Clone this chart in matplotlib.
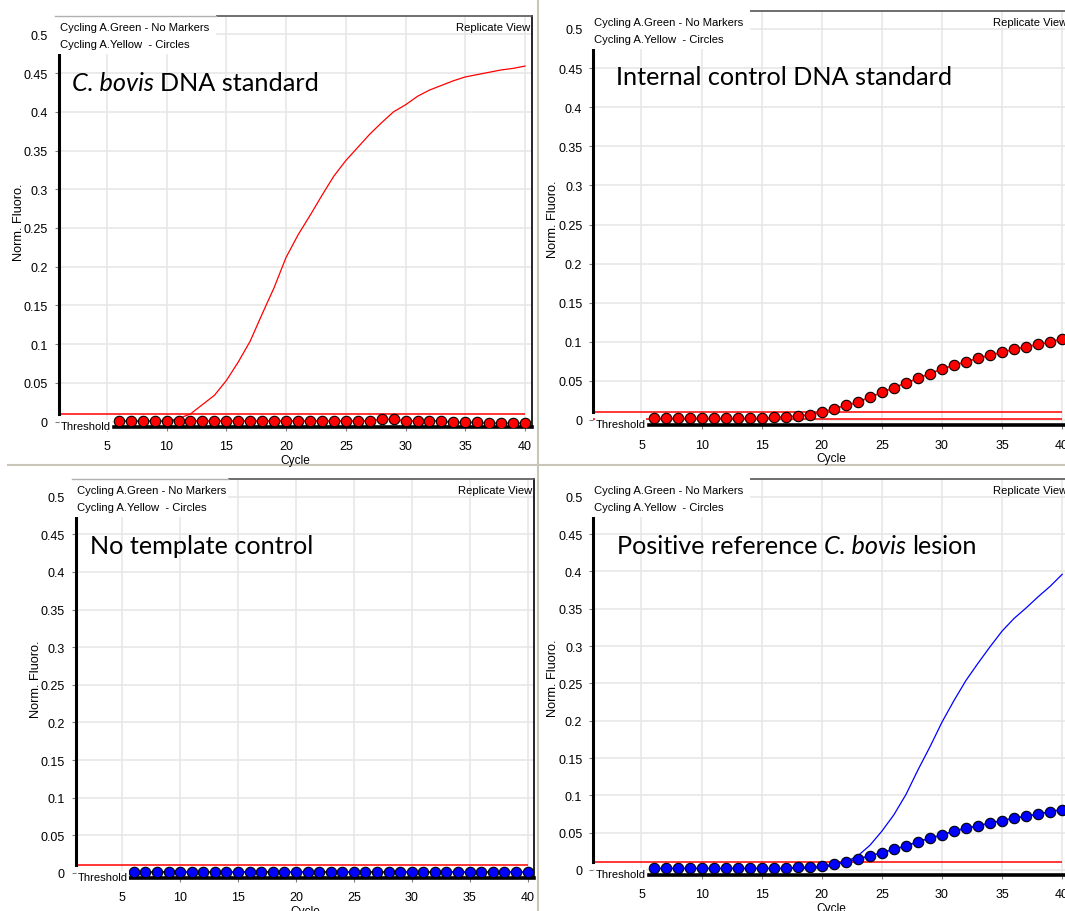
import matplotlib.pyplot as plt
from matplotlib.lines import Line2D
from matplotlib.patches import Rectangle
from matplotlib.ticker import FuncFormatter

plt.rcParams['font.family'] = ['Liberation Sans', 'DejaVu Sans']

W, H = 1065, 912

cycles = list(range(6, 41))

# C. bovis DNA standard
bovis_green = [0.001, 0.001, 0.001, 0.001, 0.001, 0.004, 0.010, 0.022, 0.034, 0.053,
               0.077, 0.104, 0.139, 0.173, 0.212, 0.241, 0.266, 0.292, 0.317, 0.337,
               0.354, 0.371, 0.386, 0.400, 0.409, 0.420, 0.428, 0.434, 0.440, 0.445,
               0.448, 0.451, 0.454, 0.456, 0.459]
bovis_yellow = [0.001, 0.001, 0.001, 0.001, 0.001, 0.001, 0.001, 0.001, 0.001, 0.001,
                0.001, 0.001, 0.001, 0.001, 0.001, 0.001, 0.001, 0.001, 0.001, 0.001,
                0.001, 0.001, 0.003, 0.003, 0.001, 0.001, 0.001, 0.001, -0.001, -0.001,
                -0.001, -0.002, -0.002, -0.002, -0.002]

# internal control DNA standard
ic_green_level = 0.0015
ic_yellow = [0.002, 0.002, 0.002, 0.002, 0.002, 0.002, 0.002, 0.002, 0.002, 0.002,
             0.0034, 0.004, 0.005, 0.0068, 0.0097, 0.0144, 0.0186, 0.0229, 0.0292, 0.0352,
             0.0415, 0.047, 0.0534, 0.0593, 0.0653, 0.0699, 0.0746, 0.0788, 0.083, 0.0864,
             0.0907, 0.0936, 0.0966, 0.0996, 0.1038]

# no template control
ntc_yellow = [0.0018, 0.0018, 0.0018, 0.0018, 0.0018, 0.0018, 0.0018, 0.0018, 0.0018, 0.0018,
              0.0018, 0.0018, 0.0018, 0.0018, 0.0018, 0.0018, 0.0018, 0.0018, 0.0018, 0.0018,
              0.0018, 0.0018, 0.0018, 0.0018, 0.0018, 0.0018, 0.0018, 0.0018, 0.0018, 0.0018,
              0.0018, 0.0018, 0.0018, 0.0018, 0.0018]

# positive reference lesion
lesion_green = [0.002, 0.002, 0.002, 0.002, 0.002, 0.002, 0.002, 0.002, 0.002, 0.002,
                0.002, 0.002, 0.002, 0.002, 0.003, 0.006, 0.011, 0.019, 0.033, 0.052,
                0.074, 0.101, 0.134, 0.165, 0.198, 0.227, 0.254, 0.277, 0.299, 0.320,
                0.337, 0.351, 0.366, 0.380, 0.396]
lesion_yellow = [0.0022, 0.0022, 0.0022, 0.0022, 0.0022, 0.0022, 0.0022, 0.0022, 0.0022, 0.0022,
                 0.0022, 0.0022, 0.0035, 0.0035, 0.005, 0.0075, 0.011, 0.0146, 0.019, 0.023,
                 0.028, 0.032, 0.038, 0.0425, 0.047, 0.052, 0.056, 0.059, 0.063, 0.066,
                 0.0695, 0.072, 0.075, 0.078, 0.081]

thresholds = [0.0105, 0.0105, 0.0105, 0.0102]

titles = [
    [("C. bovis", True), ("DNA standard", False)],
    [("Internal control DNA standard", False)],
    [("No template control", False)],
    [("Positive reference", False), ("C. bovis", True), ("lesion", False)],
]

legend_lines = ["Cycling A.Green - No Markers", "Cycling A.Yellow  - Circles"]
y_ticks = [0, 0.05, 0.1, 0.15, 0.2, 0.25, 0.3, 0.35, 0.4, 0.45, 0.5]
x_ticks = [5, 10, 15, 20, 25, 30, 35, 40]

XMIN, XMAX = 1, 40.57
YMIN, YMAX = -0.007, 0.5235

# pixel geometry of each screenshot panel: x of cycle 1, px per cycle, y of 0, px per unit
geometry = [
    (59.0, 11.95, 422.7, 774.8),
    (593.4, 12.02, 421.0, 782.0),
    (75.9, 11.58, 874.0, 752.6),
    (593.4, 12.02, 871.0, 746.6),
]
title_dx = [12.6, 22.6, 14.0, 24.0]
light_top = [True, False, True, False]

RED = '#ff0000'
BLUE = '#0000ff'
TITLE_SIZE = 18.2


def fx(x):
    return x / W


def fy(y):
    return 1 - y / H


fig = plt.figure(figsize=(W / 100, H / 100), dpi=100)
fig.patch.set_facecolor('white')

# window borders of the screenshots
fig.add_artist(Line2D([fx(538), fx(538)], [0, 1], color='#c9c5b8', lw=1.5))
fig.add_artist(Line2D([fx(8), 1], [fy(466), fy(466)], color='#c9c5b8', lw=1.5))

axes = []
for i, (c1, ppc, y0, ppu) in enumerate(geometry):
    left = c1
    right = c1 + (XMAX - XMIN) * ppc
    top = y0 - YMAX * ppu
    bottom = y0 - YMIN * ppu
    ax = fig.add_axes([fx(left), fy(bottom), fx(right - left), (bottom - top) / H])
    ax.set_xlim(XMIN, XMAX)
    ax.set_ylim(YMIN, YMAX)
    ax.set_xticks(x_ticks)
    ax.set_yticks(y_ticks)
    ax.yaxis.set_major_formatter(FuncFormatter(lambda v, p: f'{v:g}'))
    ax.grid(True, color='#e6e6e6', lw=1.1)
    ax.set_axisbelow(True)
    ax.tick_params(length=3, width=0.8, color='#808080', labelsize=9, pad=6.5)
    ax.tick_params(axis='y', pad=5)
    ax.spines['left'].set_bounds(thresholds[i], YMAX)
    ax.spines['left'].set_linewidth(2.2)
    ax.spines['bottom'].set_bounds(5.6, XMAX)
    ax.spines['bottom'].set_linewidth(2.6)
    ax.spines['top'].set_color('#555555')
    ax.spines['top'].set_linewidth(1.2)
    ax.spines['right'].set_linewidth(1.2)
    ax.hlines(thresholds[i], 1, 40, color=RED, lw=1.1, zorder=2)

    # legend box and labels
    box_w = 157 if i != 2 else 152
    fig.add_artist(Rectangle((fx(c1 - 5), fy(top + 38)), (box_w + 5) / W, 40 / H,
                             transform=fig.transFigure, facecolor='white',
                             edgecolor='none', zorder=2.5))
    if light_top[i]:
        fig.add_artist(Line2D([fx(c1 - 4), fx(c1 + box_w)], [fy(top), fy(top)],
                              color='#b0b0b0', lw=1.0, zorder=2.6))
    fig.text(fx(c1 + 1), fy(top + 11.3), legend_lines[0], fontsize=8.1, va='center', zorder=3)
    fig.text(fx(c1 + 1), fy(top + 28), legend_lines[1], fontsize=8.1, va='center', zorder=3)
    fig.text(fx(right - 2), fy(top + 11.3), "Replicate View", fontsize=8.1,
             va='center', ha='right', zorder=3)
    fig.text(fx(c1 + 2), fy(y0 + 4), "Threshold", fontsize=8.1, va='center',
             zorder=3, bbox=dict(facecolor='white', edgecolor='none', pad=0.5))
    fig.text(fx(c1 - 40), fy((top + bottom) / 2), "Norm. Fluoro.", fontsize=9.2,
             rotation=90, va='center', ha='center')
    fig.text(fx((left + right) / 2), fy(bottom + 33), "Cycle", fontsize=8.6,
             va='center', ha='center')

    # panel title, italic parts chained after each other
    parts = titles[i]
    txt, it = parts[0]
    prev = fig.text(fx(c1 + title_dx[i]), fy(top + 66), txt, fontsize=TITLE_SIZE, family='Lato',
                    style='italic' if it else 'normal', va='center', ha='left', zorder=3)
    for txt, it in parts[1:]:
        prev = ax.annotate(txt, xy=(1, 0.5), xycoords=prev, xytext=(4.3, 0),
                           textcoords='offset points', fontsize=TITLE_SIZE, family='Lato',
                           style='italic' if it else 'normal', va='center', ha='left')
    axes.append(ax)

ax1, ax2, ax3, ax4 = axes

ax1.plot(cycles, bovis_green, color=RED, lw=0.9, zorder=3)
ax1.plot(cycles, bovis_yellow, color=RED, lw=1.3, marker='o', ms=7.5,
         mfc=RED, mec='black', mew=0.8, zorder=4)

ax2.hlines(ic_green_level, 1, 40, color=RED, lw=1.1, zorder=2)
ax2.plot(cycles, ic_yellow, color=RED, lw=1.3, marker='o', ms=7.5,
         mfc=RED, mec='black', mew=0.8, zorder=4)

ax3.plot(cycles, ntc_yellow, color=BLUE, lw=1.3, marker='o', ms=7.5,
         mfc=BLUE, mec='black', mew=0.8, zorder=4)

ax4.plot(cycles, lesion_green, color=BLUE, lw=0.9, zorder=3)
ax4.plot(cycles, lesion_yellow, color=BLUE, lw=1.3, marker='o', ms=7.5,
         mfc=BLUE, mec='black', mew=0.8, zorder=4)

fig.savefig('out.png', dpi=100)
